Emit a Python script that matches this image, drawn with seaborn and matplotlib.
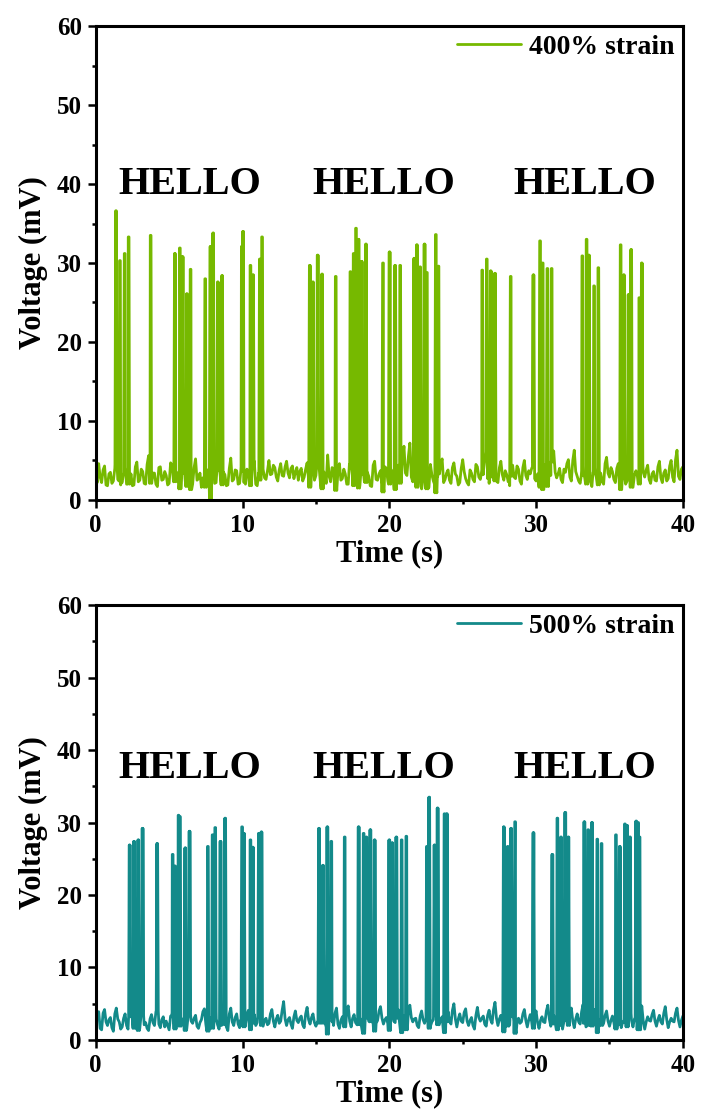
import numpy as np
import pandas as pd
import matplotlib
matplotlib.use("Agg")
import matplotlib.pyplot as plt
from matplotlib.ticker import MultipleLocator
import seaborn as sns

sns.set_style("ticks")
plt.rcParams['font.family'] = ['Liberation Serif', 'DejaVu Serif']
plt.rcParams['font.weight'] = 'bold'
plt.rcParams['axes.labelweight'] = 'bold'
plt.rcParams['text.color'] = 'black'
plt.rcParams['axes.labelcolor'] = 'black'
plt.rcParams['xtick.color'] = 'black'
plt.rcParams['ytick.color'] = 'black'

# baseline samples every 0.1 s, 0..40 s
step = 0.1
base_400 = [
    3.1, 2.2, 4.6, 2.9, 2.2, 3.8, 4.3, 1.9, 1.8, 3.3, 3.5, 2.1, 2.4, 4.0, 5.1, 2.6, 3.0, 1.9, 2.2, 4.4,
    4.1, 2.0, 2.6, 3.7, 3.3, 1.8, 1.9, 4.2, 4.8, 2.3, 2.5, 3.9, 3.6, 2.1, 2.0, 4.5, 5.6, 2.7, 2.8, 3.4,
    3.4, 2.0, 1.7, 4.1, 4.2, 2.5, 2.6, 3.6, 3.1, 1.9, 2.1, 4.7, 4.4, 2.3, 2.9, 3.5, 3.3, 2.0, 1.8, 4.0,
    4.6, 2.4, 2.3, 3.7, 3.0, 1.9, 2.0, 4.1, 5.2, 2.5, 2.7, 3.4, 1.6, 2.8, 3.8, 2.2, 2.4, 3.9, 0.8, 2.6,
    3.9, 2.1, 2.2, 4.3, 4.7, 2.6, 2.5, 3.5, 3.2, 1.8, 1.9, 4.0, 5.3, 2.4, 2.6, 3.8, 3.7, 2.0, 2.1, 4.2,
    4.4, 2.2, 2.0, 3.9, 3.6, 2.4, 2.9, 4.6, 4.9, 2.0, 1.8, 3.4, 3.1, 4.5, 4.2, 2.8, 2.6, 3.7, 5.0, 3.2,
    3.3, 4.4, 4.1, 2.9, 2.4, 3.8, 4.6, 3.1, 3.0, 4.2, 4.9, 3.4, 2.8, 4.0, 4.3, 2.7, 3.5, 4.1, 2.5, 3.6,
    4.0, 2.4, 2.9, 3.9, 4.7, 2.6, 2.2, 4.4, 3.8, 2.5, 3.1, 4.8, 4.5, 2.3, 2.0, 3.6, 3.4, 2.1, 5.7, 3.0,
    2.3, 4.1, 3.9, 2.2, 1.8, 3.6, 4.6, 2.5, 2.7, 3.9, 3.3, 2.0, 2.0, 4.3, 5.1, 2.8, 2.4, 3.4, 3.6, 2.1,
    1.9, 3.8, 4.2, 2.3, 2.8, 3.5, 3.0, 1.8, 1.7, 4.4, 4.9, 2.6, 2.5, 3.3, 3.7, 2.0, 1.6, 4.2, 4.0, 2.4,
    2.6, 3.9, 3.5, 2.1, 1.9, 4.0, 4.4, 2.7, 2.2, 5.3, 6.8, 3.4, 3.1, 5.5, 7.2, 2.9, 2.3, 3.8, 4.1, 2.2,
    2.8, 3.7, 1.4, 2.6, 3.6, 4.3, 2.0, 1.6, 4.5, 3.2, 2.4, 1.9, 1.5, 3.0, 3.9, 4.6, 5.2, 2.2, 2.6, 3.4,
    3.8, 2.5, 2.1, 4.1, 4.7, 3.3, 3.0, 1.9, 2.2, 4.0, 5.1, 3.6, 2.7, 2.2, 1.9, 3.8, 3.4, 2.6, 2.3, 4.5,
    4.2, 2.9, 2.6, 3.8, 3.5, 4.9, 6.1, 2.7, 2.1, 3.5, 4.6, 3.9, 3.0, 2.4, 2.2, 4.1, 4.9, 3.2, 2.5, 3.7,
    3.2, 2.3, 1.8, 3.6, 4.4, 2.9, 2.7, 4.3, 3.9, 2.4, 2.0, 4.1, 5.0, 3.1, 2.6, 3.7, 3.3, 4.0, 4.8, 2.7,
    2.4, 3.3, 3.7, 2.2, 1.9, 3.8, 4.5, 2.9, 2.3, 4.4, 3.1, 5.4, 6.2, 3.5, 2.8, 3.3, 4.0, 2.6, 2.2, 3.9,
    3.5, 4.6, 5.1, 2.9, 2.4, 5.0, 6.3, 3.6, 3.0, 2.4, 2.1, 3.7, 4.3, 3.0, 2.6, 3.4, 3.8, 2.3, 1.7, 3.5,
    4.1, 2.9, 2.5, 3.9, 3.4, 2.3, 2.0, 4.6, 5.4, 3.4, 2.9, 4.1, 3.6, 2.6, 2.2, 4.0, 4.6, 2.4, 1.9, 3.6,
    3.3, 2.0, 2.4, 3.8, 4.0, 2.2, 1.6, 3.1, 3.7, 3.0, 2.6, 4.4, 5.2, 3.5, 2.9, 3.8, 4.4, 2.6, 2.1, 3.3,
    3.6, 2.5, 2.4, 4.2, 4.9, 2.8, 2.2, 3.4, 3.8, 2.4, 2.7, 4.3, 5.0, 2.9, 2.3, 5.1, 6.3, 3.0, 2.6, 3.9,
    4.2,
]
base_500 = [
    2.1, 3.4, 3.9, 1.6, 1.4, 3.7, 4.2, 2.5, 2.0, 2.8, 3.1, 1.7, 1.2, 3.6, 4.4, 2.9, 2.5, 1.5, 1.8, 3.0,
    3.6, 2.0, 1.5, 3.8, 4.9, 2.7, 2.2, 3.5, 3.3, 1.9, 1.6, 3.7, 4.0, 2.1, 2.4, 1.6, 1.3, 2.9, 3.5, 2.4,
    2.0, 3.9, 4.6, 2.2, 1.7, 2.8, 3.2, 1.8, 2.6, 2.0, 1.4, 3.3, 3.8, 2.4, 2.1, 3.7, 4.5, 2.5, 1.9, 2.6,
    3.0, 1.9, 1.5, 3.4, 4.1, 2.6, 2.3, 3.0, 3.4, 1.9, 1.6, 2.4, 2.8, 3.9, 4.3, 2.2, 1.8, 2.7, 3.1, 2.0,
    2.2, 3.5, 4.0, 2.1, 1.5, 2.6, 3.3, 2.4, 2.7, 1.8, 1.3, 3.6, 4.4, 2.5, 2.0, 3.1, 3.6, 2.2, 1.7, 2.8,
    3.2, 2.4, 2.1, 3.5, 4.1, 2.0, 1.6, 2.9, 3.5, 2.0, 2.4, 4.0, 4.6, 2.6, 1.9, 2.7, 3.0, 2.1, 2.3, 3.6,
    4.2, 2.6, 1.8, 2.9, 3.4, 2.3, 2.6, 4.1, 5.3, 2.9, 2.0, 2.8, 3.1, 2.2, 1.6, 3.2, 4.0, 2.7, 2.4, 3.0,
    3.3, 2.1, 1.7, 3.6, 4.5, 2.8, 2.2, 3.1, 3.6, 2.4, 1.9, 2.5, 2.9, 3.8, 4.2, 2.9, 2.5, 1.8, 1.4, 3.1,
    3.8, 2.5, 2.0, 3.7, 4.4, 2.2, 1.6, 2.7, 3.2, 2.0, 2.4, 4.1, 4.7, 2.6, 1.8, 3.0, 3.5, 2.4, 2.1, 2.7,
    3.0, 1.9, 1.5, 3.3, 4.1, 3.0, 2.6, 3.1, 3.4, 2.2, 1.8, 2.3, 2.7, 4.0, 4.6, 3.0, 2.2, 2.8, 3.1, 2.3,
    1.9, 3.1, 3.7, 2.6, 2.4, 3.6, 4.2, 2.3, 1.6, 2.7, 3.3, 2.2, 2.0, 4.1, 4.8, 3.1, 2.5, 2.9, 3.0, 2.0,
    1.7, 3.3, 4.0, 2.8, 2.3, 3.0, 3.5, 2.2, 1.9, 2.5, 2.8, 3.9, 4.4, 2.7, 2.1, 2.8, 3.2, 2.1, 1.6, 3.1,
    3.9, 2.6, 2.2, 4.1, 5.0, 2.9, 1.8, 2.9, 3.6, 2.6, 2.4, 3.8, 4.3, 2.6, 2.0, 2.7, 3.1, 2.0, 1.5, 3.4,
    4.5, 3.1, 2.6, 3.0, 3.3, 2.2, 1.9, 3.4, 4.1, 2.8, 2.3, 4.2, 5.2, 3.0, 2.0, 2.9, 3.4, 2.3, 1.7, 2.9,
    3.7, 2.5, 2.1, 3.8, 4.6, 2.6, 1.5, 2.4, 3.0, 2.3, 2.5, 3.6, 4.2, 2.7, 1.8, 2.8, 3.5, 2.5, 2.2, 3.3,
    4.0, 2.4, 1.6, 2.7, 3.2, 2.5, 2.4, 4.0, 4.8, 2.9, 1.9, 2.8, 3.4, 2.4, 2.0, 3.3, 4.1, 2.6, 1.5, 2.6,
    3.3, 2.7, 2.6, 3.9, 4.4, 2.6, 1.7, 2.9, 3.6, 2.5, 2.2, 3.9, 4.9, 2.9, 1.8, 2.6, 3.1, 2.4, 2.5, 3.6,
    4.2, 2.5, 1.6, 2.8, 3.5, 2.6, 2.3, 3.4, 4.0, 2.6, 1.9, 2.7, 3.3, 2.4, 2.1, 3.6, 4.5, 2.7, 1.7, 2.5,
    3.0, 2.5, 2.4, 3.6, 4.3, 2.7, 1.8, 2.9, 3.6, 2.4, 2.0, 3.8, 4.7, 2.6, 1.5, 2.5, 3.2, 2.7, 2.6, 3.5,
    4.1, 2.6, 1.9, 2.8, 3.4, 2.5, 2.2, 3.7, 4.6, 2.8, 1.7, 2.5, 3.0, 2.6, 2.5, 3.7, 4.4, 2.7, 1.8, 2.7,
    3.3,
]

# spike times (s) and peak voltages (mV)
peak_t_400 = [1.38, 1.65, 1.97, 2.24, 3.74, 5.39, 5.73, 5.92, 6.21, 6.46,
              7.46, 7.82, 8.00, 8.32, 8.61, 9.95, 10.04, 10.54, 10.72, 11.18, 11.33,
              14.58, 14.80, 15.12, 15.42, 16.35, 17.35, 17.57, 17.73, 17.90, 18.12, 18.41,
              19.57, 20.02, 20.40, 20.74, 21.70, 21.88, 22.10, 22.40, 22.56, 23.17, 23.35,
              26.33, 26.64, 26.91, 27.20, 28.27, 29.82, 30.27, 30.45, 30.77, 31.06,
              33.15, 33.44, 33.60, 33.95, 34.24, 35.76, 35.98, 36.30, 36.48, 37.03, 37.20]
peak_v_400 = [36.6, 30.3, 31.2, 33.3, 33.5, 31.2, 31.9, 30.8, 26.1, 29.2,
              28.0, 32.1, 33.8, 27.6, 28.4, 32.1, 34.0, 29.7, 28.5, 30.5, 33.3,
              29.7, 27.6, 31.0, 28.6, 28.3, 28.9, 31.2, 34.4, 33.0, 30.2, 32.4,
              30.0, 31.4, 29.7, 29.7, 30.6, 32.3, 29.5, 32.4, 28.8, 33.6, 29.6,
              29.1, 30.5, 29.0, 28.7, 28.3, 28.5, 32.8, 30.0, 29.3, 29.3,
              30.9, 33.0, 31.0, 27.1, 29.4, 32.3, 28.5, 26.0, 31.7, 25.6, 30.0]

peak_t_500 = [2.31, 2.61, 2.90, 3.19, 4.19, 5.24, 5.40, 5.64, 5.74, 6.10, 6.39,
              7.64, 7.96, 8.14, 8.50, 8.82, 9.97, 10.10, 10.54, 10.70, 11.11, 11.29,
              15.21, 15.48, 15.78, 16.05, 16.96, 17.91, 18.25, 18.44, 18.71, 19.00,
              20.00, 20.20, 20.48, 20.84, 21.16, 22.56, 22.72, 23.08, 23.29, 23.76, 23.92,
              27.80, 28.07, 28.30, 28.57, 29.82, 31.11, 31.45, 31.70, 31.99, 32.20,
              33.29, 33.55, 33.81, 34.17, 34.46, 35.44, 35.70, 36.05, 36.20, 36.40,
              36.82, 36.95, 37.05]
peak_v_500 = [26.9, 27.4, 27.6, 29.2, 27.1, 25.6, 24.0, 31.0, 30.8, 26.5, 28.8,
              26.7, 28.3, 29.3, 27.4, 30.6, 29.4, 28.5, 27.6, 26.6, 28.5, 28.7,
              29.2, 24.1, 29.4, 27.4, 28.0, 29.4, 28.5, 28.0, 29.0, 27.6,
              27.6, 27.2, 28.0, 27.6, 28.1, 26.7, 33.5, 26.9, 32.0, 31.2, 31.2,
              29.4, 26.7, 29.2, 30.1, 28.6, 25.6, 30.6, 28.0, 31.4, 28.0,
              30.1, 29.0, 30.0, 27.7, 27.1, 28.3, 26.7, 29.8, 29.6, 28.0,
              30.2, 30.0, 28.0]

hello_t = [6.4, 19.6, 33.3]


def trace(base, pk_t, pk_v):
    t = [i * step for i in range(len(base))]
    v = list(base)
    for pt, pv in zip(pk_t, pk_v):
        i = min(int(round(pt / step)), len(base) - 1)
        foot = base[i] - 0.6
        t += [pt - 0.07, pt - 0.025, pt + 0.025, pt + 0.07]
        v += [foot, pv, pv, foot]
    df = pd.DataFrame({'Time': t, 'Voltage': v}).sort_values('Time', kind='stable')
    return df


fig = plt.figure(figsize=(7.04, 11.13), dpi=100)
ax1 = fig.add_axes([0.136, 0.5508, 0.834, 0.4258])
ax2 = fig.add_axes([0.136, 0.0656, 0.834, 0.3908])

panels = [
    (ax1, trace(base_400, peak_t_400, peak_v_400), '#76b900', '400% strain', 40.0),
    (ax2, trace(base_500, peak_t_500, peak_v_500), '#138a8a', '500% strain', 37.5),
]

for ax, df, col, lab, hy in panels:
    sns.lineplot(data=df, x='Time', y='Voltage', ax=ax, color=col, lw=2.0,
                 estimator=None, sort=False, label=lab)
    ax.set_xlim(0, 40)
    ax.set_ylim(0, 60)
    ax.xaxis.set_major_locator(MultipleLocator(10))
    ax.xaxis.set_minor_locator(MultipleLocator(5))
    ax.yaxis.set_major_locator(MultipleLocator(10))
    ax.yaxis.set_minor_locator(MultipleLocator(5))
    ax.tick_params(which='major', direction='out', length=6, width=1.8, labelsize=18, pad=4)
    ax.tick_params(which='minor', direction='out', length=3, width=1.8)
    for s in ax.spines.values():
        s.set_linewidth(2.2)
        s.set_color('black')
    ax.set_xlabel('Time (s)', fontsize=22, labelpad=2)
    ax.set_ylabel('Voltage (mV)', fontsize=22, labelpad=6)
    for ht in hello_t:
        ax.text(ht, hy, 'HELLO', ha='center', va='center', fontsize=29, fontweight='bold')
    leg = ax.legend(loc='upper right', frameon=False, fontsize=20, handlelength=2.3,
                    handletextpad=0.3, borderaxespad=0.1, borderpad=0.2)
    for line in leg.get_lines():
        line.set_linewidth(2)

fig.savefig('out.png', dpi=100)
